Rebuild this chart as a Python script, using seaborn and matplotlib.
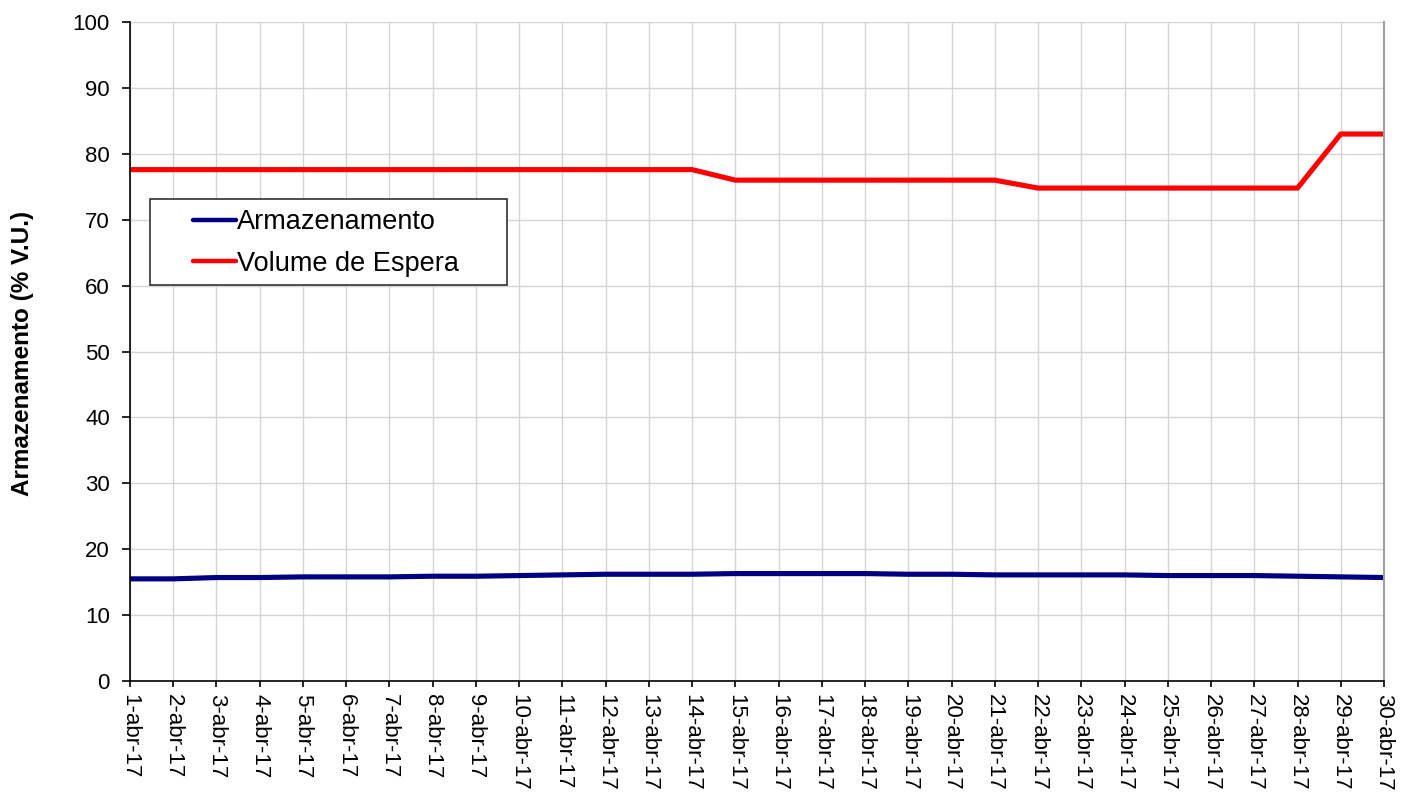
import matplotlib
matplotlib.use("Agg")
import matplotlib.pyplot as plt
import matplotlib.patches as mpatches
from matplotlib.lines import Line2D
import seaborn as sns
import pandas as pd

days = list(range(1, 31))
labels = [f"{d}-abr-17" for d in days]
armazenamento = [15.5, 15.5, 15.7, 15.7, 15.8, 15.8, 15.8, 15.9, 15.9, 16.0,
                 16.1, 16.2, 16.2, 16.2, 16.3, 16.3, 16.3, 16.3, 16.2, 16.2,
                 16.1, 16.1, 16.1, 16.1, 16.0, 16.0, 16.0, 15.9, 15.8, 15.7]
volume_espera = [77.6] * 14 + [76.0] * 7 + [74.8] * 7 + [83.0] * 2
series_names = ["Armazenamento", "Volume de Espera"]
colors = ["#000080", "#FF0000"]

sns.set_theme(style="white")
plt.rcParams['font.family'] = ['Liberation Sans', 'DejaVu Sans']
plt.rcParams['text.color'] = 'black'
plt.rcParams['xtick.color'] = 'black'
plt.rcParams['ytick.color'] = 'black'
plt.rcParams['axes.labelcolor'] = 'black'

df = pd.DataFrame({"x": days * 2,
                   "v": armazenamento + volume_espera,
                   "s": [series_names[0]] * 30 + [series_names[1]] * 30})

W, H = 1407, 795
fig = plt.figure(figsize=(W / 100, H / 100), dpi=100)
ax = fig.add_axes([130 / W, 1 - 681 / H, (1384 - 130) / W, (681 - 22) / H])
sns.lineplot(data=df, x="x", y="v", hue="s", palette=colors,
             linewidth=3.7, ax=ax, legend=False)
ax.set_xlim(1, 30)
ax.set_ylim(0, 100)
ax.set_xticks(days)
ax.set_xticklabels(labels, rotation=-90, fontsize=16)
ax.set_yticks(range(0, 101, 10))
ax.tick_params(axis="y", labelsize=16, length=5.5, width=1.2, direction="out", left=True, pad=9)
ax.tick_params(axis="x", length=4.5, width=1.2, direction="out", bottom=True, pad=5)
ax.grid(True, color="#D4D4D4", linewidth=1)
ax.set_axisbelow(True)
ax.spines["top"].set_visible(False)
ax.spines["right"].set_color("#A0A0A0")
ax.spines["right"].set_linewidth(1.5)
for s in ["left", "bottom"]:
    ax.spines[s].set_color("black")
    ax.spines[s].set_linewidth(1.2)
ax.set_xlabel("")
ax.set_ylabel("Armazenamento (% V.U.)", fontsize=17.5, fontweight="bold")
ax.yaxis.set_label_coords((34 - 130) / 1254, 0.497)

# legend frame
rect = mpatches.Rectangle((150 / W, 1 - 285 / H), 357 / W, 86 / H,
                          transform=fig.transFigure, facecolor="white",
                          edgecolor="#303030", linewidth=1.2, zorder=4, clip_on=False)
ax.add_patch(rect)
handles = [Line2D([], [], color=c, lw=3.2) for c in colors]
leg = ax.legend(handles, series_names, loc="upper left",
                bbox_to_anchor=(193 / W, 1 - 209 / H), bbox_transform=fig.transFigure,
                fontsize=19.5, frameon=False, handlelength=1.6, handletextpad=0.03,
                borderpad=0, labelspacing=0.58, borderaxespad=0)
leg.set_zorder(5)

fig.savefig("out.png", dpi=100)
